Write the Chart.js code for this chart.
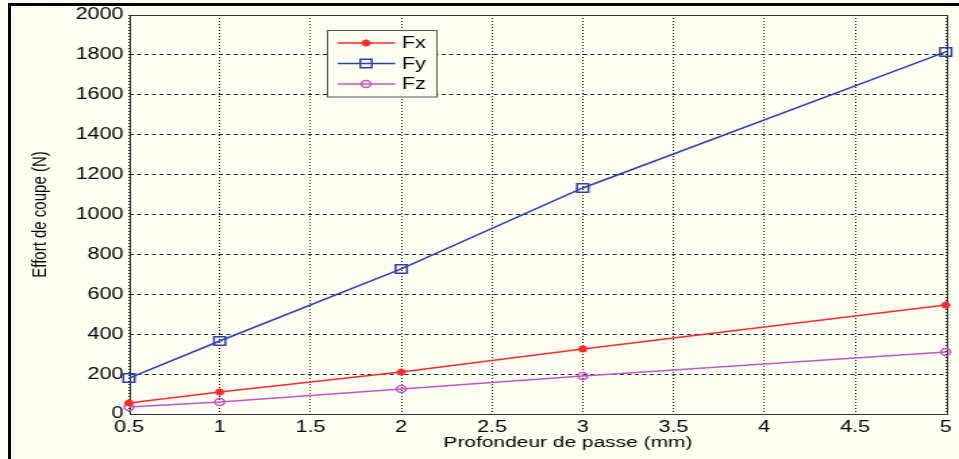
<!DOCTYPE html>
<html><head><meta charset="utf-8">
<script src="https://cdn.jsdelivr.net/npm/chart.js@4/dist/chart.umd.min.js"></script>
<style>
html,body{margin:0;padding:0;background:#fefef2;width:959px;height:459px;overflow:hidden;}
#wrap{position:absolute;left:0;top:0;width:710px;height:459px;transform:scaleX(1.3507);transform-origin:0 0;}
#frame{position:absolute;left:8px;top:3px;width:960px;height:470px;border-left:3px solid #000;border-top:3px solid #000;pointer-events:none;}
</style></head><body>
<div id="wrap"><canvas id="c" width="710" height="459"></canvas></div>
<div id="frame"></div>
<script>
// ---- data ----
const depths = [0.5, 1, 2, 3, 5];               // Profondeur de passe (mm)
const fxValues = [55, 110, 210, 326, 546];      // Fx (N)
const fyValues = [180, 366, 727, 1133, 1815];   // Fy (N)
const fzValues = [35, 60, 125, 190, 311];       // Fz (N)
const seriesNames = ['Fx', 'Fy', 'Fz'];
const xTickValues = [0.5, 1, 1.5, 2, 2.5, 3, 3.5, 4, 4.5, 5];
const yTickValues = [0, 200, 400, 600, 800, 1000, 1200, 1400, 1600, 1800, 2000];
const xTitle = 'Profondeur de passe (mm)';
const yTitle = 'Effort de coupe (N)';

const FONT = "'Liberation Sans', Arial, sans-serif";
const BG = '#fefef2';
const toPts = v => depths.map((d, i) => ({x: d, y: v[i]}));

const legendPlugin = {
  id: 'boxLegend',
  afterDraw(chart) {
    const ctx = chart.ctx;
    ctx.save();
    ctx.fillStyle = BG;
    ctx.fillRect(242, 30, 81.5, 67);
    ctx.strokeStyle = '#555';
    ctx.lineWidth = 1;
    ctx.strokeRect(242.5, 30.5, 81, 66.5);
    const rows = [43, 63.5, 84];
    chart.data.datasets.forEach((ds, i) => {
      const y = rows[i];
      ctx.strokeStyle = ds.borderColor;
      ctx.lineWidth = ds.borderWidth;
      ctx.beginPath(); ctx.moveTo(250, y); ctx.lineTo(292.5, y); ctx.stroke();
      ctx.fillStyle = ds.pointBackgroundColor;
      ctx.strokeStyle = ds.pointBorderColor;
      ctx.lineWidth = ds.pointBorderWidth;
      Chart.helpers.drawPoint(ctx, {pointStyle: ds.pointStyle, radius: ds.pointRadius, borderWidth: ds.pointBorderWidth, rotation: 0}, 271, y);
      ctx.fillStyle = '#000';
      ctx.font = '16px ' + FONT;
      ctx.textBaseline = 'middle';
      ctx.textAlign = 'left';
      ctx.fillText(ds.label, 297.6, y + 1);
    });
    // x axis title (offset to the right as in the reference)
    ctx.fillStyle = '#000';
    ctx.font = '15.5px ' + FONT;
    ctx.textAlign = 'center';
    ctx.textBaseline = 'middle';
    ctx.fillText(xTitle, 420.5, 442.5);
    ctx.restore();
  }
};

const boxPlugin = {
  id: 'axesBox',
  beforeDatasetsDraw(chart) {
    const {left, right, top, bottom} = chart.chartArea;
    const ctx = chart.ctx;
    ctx.save();
    ctx.strokeStyle = '#333';
    ctx.lineWidth = 1;
    ctx.strokeRect(Math.round(left) + 0.5, Math.round(top) + 0.5, Math.round(right - left), Math.round(bottom - top));
    ctx.restore();
  }
};

new Chart(document.getElementById('c'), {
  type: 'line',
  data: {
    datasets: [
      {label: seriesNames[0], data: toPts(fxValues), borderColor: '#ff2a2a', borderWidth: 1.5,
       pointStyle: 'star', pointRadius: 3.5, pointBorderWidth: 2, pointBackgroundColor: '#ff2a2a', pointBorderColor: '#ff2a2a', clip: false},
      {label: seriesNames[1], data: toPts(fyValues), borderColor: '#2e3fae', borderWidth: 1.5,
       pointStyle: 'rect', pointRadius: 6, pointBorderWidth: 1.5, pointBackgroundColor: 'rgba(0,0,0,0)', pointBorderColor: '#2e3fae', clip: false},
      {label: seriesNames[2], data: toPts(fzValues), borderColor: '#c058be', borderWidth: 1.5,
       pointStyle: 'circle', pointRadius: 3.5, pointBorderWidth: 1.5, pointBackgroundColor: 'rgba(0,0,0,0)', pointBorderColor: '#c058be', clip: false}
    ]
  },
  options: {
    responsive: false,
    animation: false,
    events: [],
    layout: {padding: {left: 9, top: 15, right: 9.8, bottom: 0}},
    plugins: {legend: {display: false}, tooltip: {enabled: false}},
    scales: {
      x: {
        type: 'linear', min: 0.5, max: 5,
        afterBuildTicks: s => { s.ticks = xTickValues.map(v => ({value: v})); },
        afterFit: s => { s.height = 45; },
        ticks: {color: '#000', font: {family: FONT, size: 16}, padding: 4, maxRotation: 0,
                callback: v => String(v)},
        grid: {color: '#222', lineWidth: 1, drawTicks: false},
        border: {display: false, dash: [1, 2]},
        title: {display: false}
      },
      y: {
        type: 'linear', min: 0, max: 2000,
        afterBuildTicks: s => { s.ticks = yTickValues.map(v => ({value: v})); },
        afterFit: s => { s.width = 86.5; },
        ticks: {color: '#000', font: {family: FONT, size: 16}, padding: 4,
                callback: v => String(v)},
        grid: {color: '#222', lineWidth: 1, drawTicks: false},
        border: {display: false, dash: [3, 2.5]},
        title: {display: true, text: yTitle, color: '#000', font: {family: FONT, size: 15}, padding: {top: 11.6, bottom: 0}}
      }
    }
  },
  plugins: [boxPlugin, legendPlugin]
});
</script>
</body></html>
